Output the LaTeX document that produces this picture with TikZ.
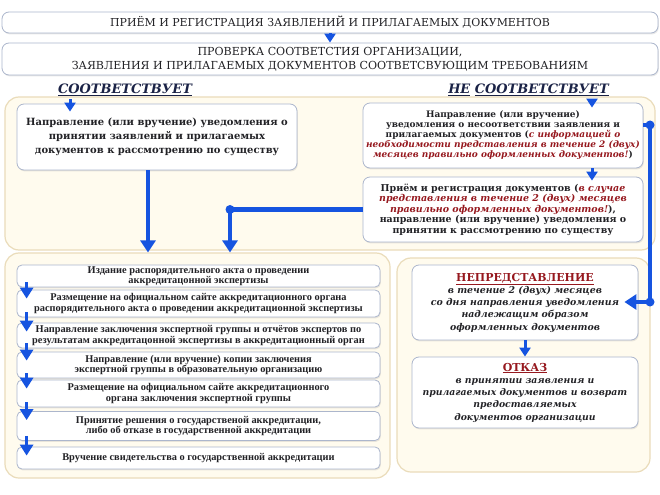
\documentclass[tikz,border=0pt]{standalone}
\usepackage{fontspec}
\setmainfont{DejaVu Serif}
\newfontfamily\stepfont{Liberation Serif}
\usetikzlibrary{arrows.meta,shadows}
\definecolor{flowblue}{RGB}{22,84,224}
\definecolor{cardline}{RGB}{172,182,204}
\definecolor{panelfill}{RGB}{255,251,238}
\definecolor{panelline}{RGB}{234,220,186}
\definecolor{notered}{RGB}{150,24,30}
\definecolor{labelnavy}{RGB}{26,34,70}
\definecolor{inkgray}{RGB}{34,34,38}
\newcommand{\rednote}[1]{{\color{notered}\itshape #1}}
\begin{document}
\begin{tikzpicture}[x=1bp,y=-1bp,
  panel/.style={draw=panelline, line width=1.2bp, fill=panelfill, rounded corners=14bp, inner sep=0pt},
  card/.style={draw=cardline, line width=0.8bp, fill=white, rounded corners=7bp, inner sep=0pt, align=center, text=inkgray,
    drop shadow={opacity=0.18, shadow xshift=0.8bp, shadow yshift=-1.4bp}},
  stepbox/.style={card, rounded corners=5bp, minimum width=363bp, font=\stepfont\bfseries\fontsize{10.4}{10.5}\selectfont},
  bigarrow/.style={draw=flowblue, line width=4.5bp, -{Triangle[width=15bp,length=12bp]}},
  smallarrow/.style={draw=flowblue, line width=3bp, -{Triangle[width=11bp,length=9bp]}},
  stepflow/.style={draw=flowblue, line width=3.5bp, -{Triangle[width=13bp,length=11bp]}}]
\useasboundingbox (0,0) rectangle (660,495);
\fill[white] (0,0) rectangle (660,495);

% background panels
\node[panel, minimum width=650bp, minimum height=153bp] (upper) at (330,173.5) {};
\node[panel, minimum width=385bp, minimum height=225bp] (stepspanel) at (197.5,365.5) {};
\node[panel, minimum width=253bp, minimum height=214bp] (rightpanel) at (523.5,365) {};

% header
\node[card, minimum width=656bp, minimum height=21bp, font=\fontsize{11}{13}\selectfont] (reception) at (330,22.5) {ПРИЁМ И РЕГИСТРАЦИЯ ЗАЯВЛЕНИЙ И ПРИЛАГАЕМЫХ ДОКУМЕНТОВ};
\node[card, minimum width=656bp, minimum height=32bp, font=\fontsize{11.1}{14}\selectfont] (check) at (330,59) {ПРОВЕРКА СООТВЕТСТИЯ ОРГАНИЗАЦИИ,\\ЗАЯВЛЕНИЯ И ПРИЛАГАЕМЫХ ДОКУМЕНТОВ СООТВЕТСВУЮЩИМ ТРЕБОВАНИЯМ};
\node[text=labelnavy, font=\bfseries\itshape\fontsize{13}{15}\selectfont] (yes) at (125,90) {\underline{СООТВЕТСТВУЕТ}};
\node[text=labelnavy, font=\bfseries\itshape\fontsize{13}{15}\selectfont] (no) at (528.5,90) {\underline{НЕ} \underline{СООТВЕТСТВУЕТ}};

% upper part
\node[card, minimum width=280bp, minimum height=66bp, font=\bfseries\fontsize{10}{14}\selectfont] (accept) at (157,137) {Направление (или вручение) уведомления о\\принятии заявлений и прилагаемых\\документов к рассмотрению по существу};
\node[card, minimum width=280bp, minimum height=65bp, font=\bfseries\fontsize{9}{10}\selectfont] (refuse) at (503,135.5) {Направление (или вручение)\\уведомления о несоответствии заявления и\\прилагаемых документов (\rednote{с информацией о}\\\rednote{необходимости представления в течение 2 (двух)}\\\rednote{месяцев правильно оформленных документов!})};
\node[card, minimum width=280bp, minimum height=65bp, font=\bfseries\fontsize{9.5}{10.5}\selectfont] (resubmit) at (503,209.5) {Приём и регистрация документов (\rednote{в случае}\\\rednote{представления в течение 2 (двух) месяцев}\\\rednote{правильно оформленных документов!}),\\направление (или вручение) уведомления о\\принятии к рассмотрению по существу};

% accreditation steps
\node[stepbox, minimum height=22bp] (s1) at (198.5,276) {Издание распорядительного акта о проведении\\аккредитацонной экспертизы};
\node[stepbox, minimum height=27bp] (s2) at (198.5,303.5) {Размещение на официальном сайте аккредитационного органа\\распорядительного акта о проведении аккредитационной экспертизы};
\node[stepbox, minimum height=25bp] (s3) at (198.5,335.5) {Направление заключения экспертной группы и отчётов экспертов по\\результатам аккредитацонной экспертизы в аккредитационный орган};
\node[stepbox, minimum height=26bp] (s4) at (198.5,365) {Направление (или вручение) копии заключения\\экспертной группы в образовательную организацию};
\node[stepbox, minimum height=27bp] (s5) at (198.5,393.5) {Размещение на официальном сайте аккредитационного\\органа заключения экспертной группы};
\node[stepbox, minimum height=29bp] (s6) at (198.5,426) {Принятие решения о государственой аккредитации,\\либо об отказе в государственной аккредитации};
\node[stepbox, minimum height=22bp] (s7) at (198.5,458) {Вручение свидетельства о государственной аккредитации};

% right column
\node[card, minimum width=226bp, minimum height=75bp, font=\bfseries\itshape\fontsize{9.4}{12.3}\selectfont] (nonsub) at (525,302.5) {{\upshape\color{notered}\fontsize{11}{13}\selectfont\underline{НЕПРЕДСТАВЛЕНИЕ}}\\в течение 2 (двух) месяцев\\со дня направления уведомления\\надлежащим образом\\оформленных документов};
\node[card, minimum width=226bp, minimum height=71bp, font=\bfseries\itshape\fontsize{9.3}{12.3}\selectfont] (refusal) at (525,392.5) {{\upshape\color{notered}\fontsize{11}{13}\selectfont\underline{ОТКАЗ}}\\в принятии заявления и\\прилагаемых документов и возврат\\предоставляемых\\документов организации};

\coordinate (bend) at (230,209.5);
\coordinate (topcorner) at (650,125);
\coordinate (lowcorner) at (650,302);

\draw[smallarrow] (reception) -- (check);
\draw[smallarrow] ([xshift=-55bp]yes.south) -- ([xshift=-55bp,yshift=-8bp]yes.south |- accept.north);
\draw[smallarrow] ([xshift=63.5bp]no.south) -- ([xshift=63.5bp,yshift=-5bp]no.south |- refuse.north);
\draw[smallarrow] ([xshift=89bp]refuse.south) -- ([xshift=89bp,yshift=-4bp]refuse.south |- resubmit.north);
\draw[bigarrow] ([xshift=-9bp]accept.south) -- ([xshift=-9bp]accept.south |- stepspanel.north);
\draw[bigarrow] (resubmit.west) -- (bend) -- (bend |- stepspanel.north);
\fill[flowblue] (bend) circle (4.5bp);
\draw[bigarrow] (refuse.east |- topcorner) -- (topcorner) -- (lowcorner) -- ([xshift=-14bp]nonsub.east |- lowcorner);
\fill[flowblue] (topcorner) circle (4.5bp);
\fill[flowblue] (lowcorner) circle (4.5bp);
\draw[smallarrow] (nonsub) -- (refusal);

\draw[stepflow] ([xshift=10bp,yshift=5bp]s1.south west) -- ([xshift=10bp,yshift=-9bp]s2.north west);
\draw[stepflow] ([xshift=10bp,yshift=5bp]s2.south west) -- ([xshift=10bp,yshift=-9bp]s3.north west);
\draw[stepflow] ([xshift=10bp,yshift=5bp]s3.south west) -- ([xshift=10bp,yshift=-9bp]s4.north west);
\draw[stepflow] ([xshift=10bp,yshift=5bp]s4.south west) -- ([xshift=10bp,yshift=-9bp]s5.north west);
\draw[stepflow] ([xshift=10bp,yshift=5bp]s5.south west) -- ([xshift=10bp,yshift=-9bp]s6.north west);
\draw[stepflow] ([xshift=10bp,yshift=5bp]s6.south west) -- ([xshift=10bp,yshift=-9bp]s7.north west);
\end{tikzpicture}
\end{document}
